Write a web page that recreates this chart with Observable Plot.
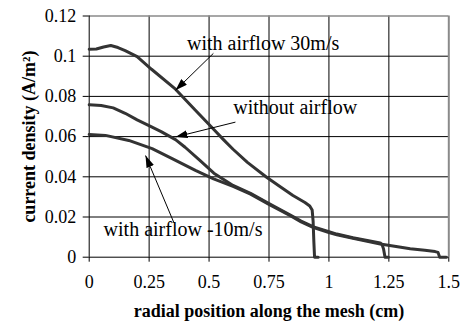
<!DOCTYPE html>
<html><head><meta charset="utf-8">
<script src="https://cdn.jsdelivr.net/npm/d3@7"></script>
<script src="https://cdn.jsdelivr.net/npm/@observablehq/plot@0.6"></script>
<style>html,body{margin:0;padding:0;background:#fff} #chart svg{display:block}</style>
</head><body><div id="chart"></div>
<script>
// ---- axes ----
const xTicks = [0, 0.25, 0.5, 0.75, 1, 1.25, 1.5];
const xTickLabels = ["0", "0.25", "0.5", "0.75", "1", "1.25", "1.5"];
const yTicks = [0, 0.02, 0.04, 0.06, 0.08, 0.1, 0.12];
const yTickLabels = ["0", "0.02", "0.04", "0.06", "0.08", "0.1", "0.12"];
const xTitle = "radial position along the mesh (cm)";
const yTitle = "current density (A/m²)";

// ---- series ----
const seriesNames = ["with airflow 30m/s", "without airflow", "with airflow -10m/s"];

const air30X = [0, 0.03, 0.06, 0.09, 0.12, 0.15, 0.2, 0.26, 0.36, 0.44, 0.52, 0.56, 0.6, 0.66, 0.74, 0.8, 0.85, 0.9, 0.92, 0.93, 0.934, 0.937, 0.94, 0.955];
const air30Y = [0.1035, 0.1036, 0.1046, 0.1053, 0.1043, 0.1028, 0.0998, 0.0935, 0.0836, 0.0735, 0.0635, 0.0585, 0.0537, 0.0472, 0.0398, 0.0348, 0.0307, 0.0272, 0.0255, 0.0235, 0.018, 0.008, 0, 0];

const noAirX = [0, 0.05, 0.1, 0.15, 0.2, 0.26, 0.3, 0.36, 0.4, 0.464, 0.52, 0.6, 0.673, 0.75, 0.839, 0.884, 0.936, 1.0, 1.033, 1.1, 1.16, 1.214, 1.222, 1.228, 1.234, 1.248];
const noAirY = [0.0758, 0.0755, 0.0743, 0.0716, 0.0683, 0.0648, 0.0625, 0.0585, 0.0547, 0.0479, 0.0418, 0.0357, 0.0318, 0.0267, 0.021, 0.018, 0.0151, 0.0127, 0.0115, 0.0097, 0.0083, 0.0071, 0.0062, 0.004, 0, 0];

const airM10X = [0, 0.068, 0.165, 0.2625, 0.346, 0.443, 0.519, 0.6, 0.673, 0.75, 0.839, 0.884, 0.936, 1.0, 1.033, 1.1, 1.214, 1.3, 1.339, 1.4, 1.443, 1.455, 1.462, 1.49];
const airM10Y = [0.0611, 0.0606, 0.0581, 0.054, 0.049, 0.0432, 0.039, 0.0352, 0.0314, 0.0263, 0.0206, 0.0176, 0.0147, 0.0123, 0.0111, 0.0094, 0.0066, 0.0049, 0.0042, 0.0034, 0.0028, 0.0024, 0, 0];

// ---- annotations ----
const labelX = [0.408, 0.601, 0.06];
const labelY = [0.1029, 0.0714, 0.0106];
const arrowX1 = [0.518, 0.61, 0.3525];
const arrowY1 = [0.1014, 0.0672, 0.0174];
const arrowX2 = [0.36, 0.36, 0.235];
const arrowY2 = [0.083, 0.0598, 0.0506];

const series = [
  {name: seriesNames[0], xs: air30X, ys: air30Y},
  {name: seriesNames[1], xs: noAirX, ys: noAirY},
  {name: seriesNames[2], xs: airM10X, ys: airM10Y}
];
const lineData = series.flatMap(s => s.xs.map((x, i) => ({series: s.name, x, y: s.ys[i]})));
const labels = seriesNames.map((t, i) => ({t, x: labelX[i], y: labelY[i]}));
const arrows = seriesNames.map((t, i) => ({x1: arrowX1[i], y1: arrowY1[i], x2: arrowX2[i], y2: arrowY2[i]}));

function filledArrow(color, context) {
  const ns = "http://www.w3.org/2000/svg";
  const doc = context.document;
  const m = doc.createElementNS(ns, "marker");
  m.setAttribute("viewBox", "-12 -4 12 8");
  m.setAttribute("markerWidth", 12);
  m.setAttribute("markerHeight", 8);
  m.setAttribute("markerUnits", "userSpaceOnUse");
  m.setAttribute("orient", "auto");
  m.setAttribute("fill", color);
  m.setAttribute("stroke", "none");
  const p = doc.createElementNS(ns, "path");
  p.setAttribute("d", "M-12,-4L0,0L-12,4Z");
  m.appendChild(p);
  return m;
}

const serif = "'Liberation Serif', 'Times New Roman', Times, serif";
const inner = v => v > 0 && v < 0.12;

const chart = Plot.plot({
  width: 461,
  height: 326,
  marginLeft: 88.7,
  marginRight: 12.7,
  marginTop: 15.5,
  marginBottom: 69.3,
  style: {fontFamily: serif, fontSize: "18px", color: "#000", background: "#fff", overflow: "visible"},
  x: {domain: [0, 1.5], ticks: xTicks},
  y: {domain: [0, 0.12], ticks: yTicks},
  marks: [
    Plot.gridX(xTicks.filter(v => v > 0 && v < 1.5), {stroke: "#000", strokeOpacity: 1, strokeWidth: 1}),
    Plot.gridY(yTicks.filter(inner), {stroke: "#000", strokeOpacity: 1, strokeWidth: 1}),
    Plot.ruleY([0.12], {stroke: "#8a8a8a", strokeWidth: 1.5}),
    Plot.ruleX([1.5], {stroke: "#8a8a8a", strokeWidth: 2}),
    Plot.ruleX([0], {stroke: "#000", strokeWidth: 1}),
    Plot.ruleY([0], {stroke: "#000", strokeWidth: 1}),
    Plot.axisX(xTicks, {tickFormat: d => xTickLabels[xTicks.indexOf(d)], tickSize: 5, tickPadding: 13.5, fontSize: 18, fontFamily: serif, label: null}),
    Plot.axisY(yTicks, {tickFormat: d => yTickLabels[yTicks.indexOf(d)], tickSize: 6, tickPadding: 7, fontSize: 18, fontFamily: serif, label: null}),
    Plot.line(lineData, {x: "x", y: "y", z: "series", stroke: "#333", strokeWidth: 3, strokeLinejoin: "round", strokeLinecap: "round"}),
    Plot.link(arrows, {x1: "x1", y1: "y1", x2: "x2", y2: "y2", stroke: "#000", strokeWidth: 1, markerEnd: filledArrow}),
    Plot.text(labels, {x: "x", y: "y", text: "t", textAnchor: "start", lineAnchor: "bottom", fontSize: 20, fontFamily: serif, fill: "#000"}),
    Plot.text([xTitle], {text: d => d, frameAnchor: "bottom", textAnchor: "middle", dy: 59.3, lineAnchor: "bottom", fontSize: 18, fontFamily: serif, fontWeight: "bold", fill: "#000"}),
    Plot.text([yTitle], {text: d => d, frameAnchor: "left", textAnchor: "middle", dx: -53.7, rotate: -90, lineAnchor: "bottom", fontSize: 18, fontFamily: serif, fontWeight: "bold", fill: "#000"})
  ]
});
document.getElementById("chart").appendChild(chart);
</script>
</body></html>
